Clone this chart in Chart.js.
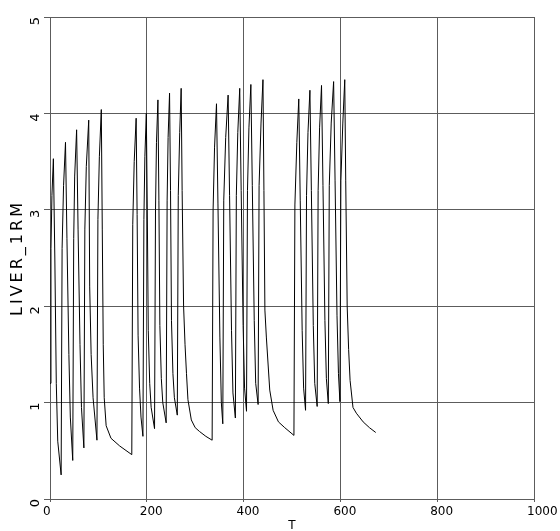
<!DOCTYPE html>
<html><head><meta charset="utf-8">
<script src="https://cdn.jsdelivr.net/npm/chart.js@4"></script>
<style>html,body{margin:0;padding:0;background:#fff}canvas{display:block}</style>
</head><body>
<canvas id="c" width="560" height="531"></canvas>
<script>
const tValues = [
0,2,4,7,10,13,16,23,
25,28,32,35,39,42,47,
49,51,55,58,62,65,70,
72,75,80,82,85,89,97,
99,102,106,108,110,112,116,126,144,169,
171,174,178,180,182,185,188,192,
194,196,199,201,203,206,209,216,
218,220,223,225,227,230,233,240,
242,244,247,249,251,254,257,263,
265,268,271,273,276,279,282,285,292,300,309,322,335,
337,340,344,347,351,354,357,
359,363,368,371,375,378,383,
385,388,392,395,399,402,406,
408,411,415,418,422,425,430,
432,436,440,442,444,447,454,461,472,485,504,
506,510,514,517,521,524,528,
530,533,537,540,544,547,552,
554,557,561,564,568,571,575,
577,581,586,589,593,596,599,
601,605,609,611,614,617,620,626,633,647,660,673
];
const liverValues = [
1.20,2.60,3.15,3.53,2.50,1.20,0.60,0.25,
2.60,3.25,3.70,2.70,1.50,0.85,0.40,
2.70,3.35,3.83,2.80,1.60,0.95,0.53,
2.80,3.45,3.93,2.20,1.50,1.05,0.61,
2.90,3.55,4.04,2.80,1.60,1.05,0.76,0.63,0.55,0.46,
2.85,3.50,3.95,2.95,1.70,1.15,0.85,0.65,
2.90,3.55,4.00,3.00,1.75,1.20,0.95,0.73,
3.00,3.70,4.14,3.10,1.80,1.25,1.00,0.79,
3.10,3.75,4.21,3.20,1.85,1.30,1.05,0.87,
3.15,3.80,4.26,3.20,2.00,1.60,1.30,1.03,0.82,0.74,0.70,0.65,0.61,
3.00,3.65,4.10,3.07,1.68,1.00,0.78,
3.10,3.75,4.19,3.15,1.75,1.10,0.84,
3.15,3.80,4.26,3.20,1.80,1.15,0.91,
3.20,3.85,4.30,3.25,1.85,1.20,0.98,
3.25,3.90,4.35,3.20,1.96,1.68,1.13,0.92,0.80,0.74,0.66,
3.05,3.70,4.15,3.10,1.75,1.15,0.92,
3.15,3.80,4.24,3.20,1.80,1.20,0.96,
3.20,3.85,4.29,3.25,1.85,1.25,0.99,
3.25,3.90,4.33,3.30,1.90,1.30,1.01,
3.30,3.90,4.35,3.30,2.00,1.55,1.23,0.95,0.89,0.80,0.74,0.69
];
const xTickValues = [0,200,400,600,800,1000];
const yTickValues = [0,1,2,3,4,5];
const xTitle = 'T';
const yTitle = 'LIVER_1RM';

const points = tValues.map((t, i) => ({x: t, y: liverValues[i]}));
const GRID = '#5c5c5c';
const FONT = 'DejaVu Sans';

const spacingPlugin = {
  id: 'yTitleSpacing',
  beforeDraw(chart) {
    const s = chart.scales.y;
    if (s && !s.__patched) {
      const orig = s.drawTitle;
      s.drawTitle = function () {
        const ctx = this.ctx;
        ctx.save();
        ctx.letterSpacing = '3px';
        orig.call(this);
        ctx.restore();
      };
      s.__patched = true;
    }
  }
};

new Chart(document.getElementById('c'), {
  type: 'line',
  data: {datasets: [{data: points, borderColor: '#000', borderWidth: 1, pointRadius: 0, tension: 0, fill: false}]},
  options: {
    responsive: false, animation: false, devicePixelRatio: 1,
    layout: {padding: {left: 0, right: 26, top: 17, bottom: 0}},
    plugins: {legend: {display: false}, tooltip: {enabled: false}},
    scales: {
      x: {
        type: 'linear', min: 0, max: 1000,
        afterBuildTicks: s => { s.ticks = xTickValues.map(v => ({value: v})); },
        afterFit: s => { s.height = 32; s.paddingLeft = 0; s.paddingRight = 0; },
        grid: {color: GRID, lineWidth: 1, tickLength: 3, drawTicks: true, tickColor: GRID},
        border: {display: true, color: GRID, width: 1},
        ticks: {autoSkip: false, maxRotation: 0, minRotation: 0, align: 'start', labelOffset: -7, padding: 3,
                color: '#000', font: {family: FONT, size: 12}, callback: v => String(v)},
        title: {display: true, text: xTitle, color: '#000', font: {family: FONT, size: 12, lineHeight: 0.8}, padding: 0}
      },
      y: {
        type: 'linear', min: 0, max: 5,
        afterBuildTicks: s => { s.ticks = yTickValues.map(v => ({value: v})); },
        afterFit: s => { s.width = 50; s.paddingTop = 0; s.paddingBottom = 0; },
        grid: {color: GRID, lineWidth: 1, tickLength: 6, drawTicks: true, tickColor: GRID},
        border: {display: true, color: GRID, width: 1},
        ticks: {autoSkip: false, minRotation: 90, maxRotation: 90, padding: 8,
                color: '#000', font: {family: FONT, size: 13}, callback: v => String(v)},
        title: {display: true, text: yTitle, color: '#000', font: {family: FONT, size: 16, lineHeight: 1.2}, padding: {top: 8, bottom: 0}}
      }
    }
  },
  plugins: [spacingPlugin]
});
</script>
</body></html>
